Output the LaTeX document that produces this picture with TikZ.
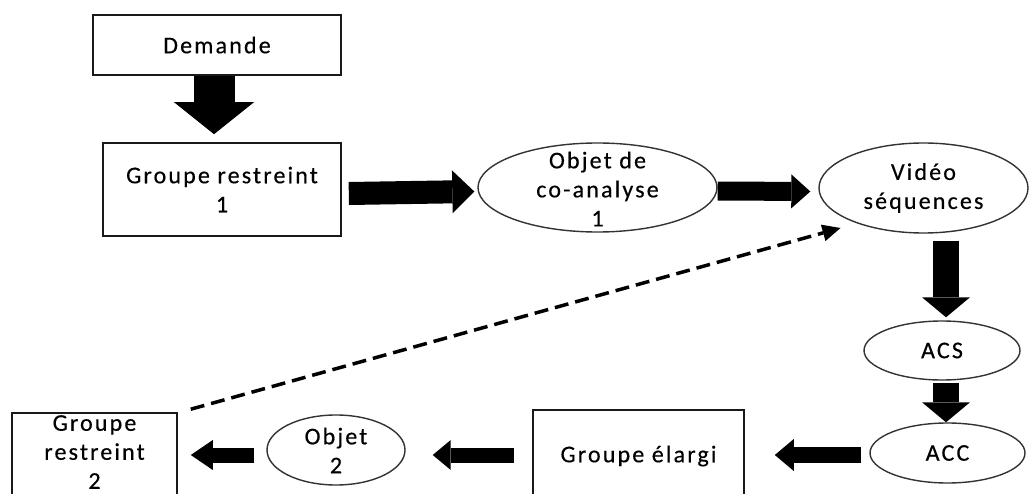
\documentclass[tikz,border=0pt]{standalone}
\usepackage{fontspec}
\setmainfont{Carlito}[LetterSpace=9,FakeBold=0.4]
\usetikzlibrary{shapes.geometric,arrows.meta,calc}
\newcommand\lbfont{\fontsize{24}{29}\selectfont}
\tikzset{
  box/.style={draw=black!90, line width=1.6pt, rectangle, inner sep=0pt, font=\lbfont, align=center},
  ell/.style={draw=black!80, line width=1.4pt, ellipse, inner sep=0pt, font=\lbfont, align=center},
  lbl/.style={font=\lbfont, align=center, inner sep=0pt},
  blk/.style={draw=black, line cap=butt},
  bigtip/.style 2 args={-{Triangle[width=#1,length=#2,line width=0pt]}},
  dashlink/.style={draw=black, line width=3.5pt, dash pattern=on 14pt off 7pt,
    -{Triangle[width=17pt,length=18pt,line width=0pt]}},
}
\begin{document}
\begin{tikzpicture}[x=1pt,y=-1pt]
  \fill[white] (0,0) rectangle (1030,494);
  \useasboundingbox (0,0) rectangle (1030,494);

  % nodes
  \node[box, minimum width=248pt, minimum height=60pt] (dem) at (217,45) {Demande};
  \node[box, minimum width=238pt, minimum height=93pt] (gr1) at (222,189.5) {Groupe restreint\\1};
  \node[ell, minimum width=239pt, minimum height=89pt] (obj1) at (597.5,187.5) {};
  \node[lbl] (obj1t) at (597.5,189) {Objet de\\co-analyse\\1};
  \node[ell, minimum width=209pt, minimum height=90pt] (vid) at (923.5,188) {Vidéo\\séquences};
  \node[ell, minimum width=156pt, minimum height=59pt] (acs) at (942,350.5) {ACS};
  \node[ell, minimum width=155pt, minimum height=60pt] (acc) at (947.5,453) {ACC};
  \node[box, minimum width=211pt, minimum height=92pt] (ela) at (638.5,456) {};
  \node[lbl] (elat) at (638.5,456) {Groupe élargi};
  \node[ell, minimum width=138pt, minimum height=70pt] (obj2) at (336,450) {};
  \node[lbl] (obj2t) at (336,450.5) {Objet\\2};
  \node[box, minimum width=165pt, minimum height=92pt] (gr2) at (94.5,459) {};
  \node[lbl] (gr2t) at (94.5,452) {Groupe\\restreint\\2};

  % block arrows
  \draw[blk, line width=41pt, bigtip={80pt}{32pt}]
    ($(dem.south)+(-3,0)$) -- ($(dem.south |- gr1.north)+(-3,-8)$);
  \draw[blk, line width=23pt, bigtip={43pt}{22pt}]
    ($(gr1.east)+(7,4)$) -- ($(obj1.west)+(-3,4)$);
  \draw[blk, line width=19pt, bigtip={34pt}{19pt}]
    ($(obj1.east)+(0,3.5)$) -- ($(vid.west)+(-8,3.5)$);
  \draw[blk, line width=26pt, bigtip={48pt}{20pt}]
    ($(vid.south -| acs.north)+(4,7)$) -- ($(acs.north)+(4,-3)$);
  \draw[blk, line width=26pt, bigtip={48pt}{20pt}]
    ($(acs.south)+(4,2)$) -- ($(acs.south |- acc.north)+(4,0)$);
  \draw[blk, line width=16pt, bigtip={32pt}{19pt}]
    ($(acc.west)+(-8,2)$) -- ($(ela.east |- acc.west)+(30,2)$);
  \draw[blk, line width=15pt, bigtip={30pt}{18pt}]
    ($(ela.west |- acc.west)+(-18,2)$) -- ($(obj2.east |- acc.west)+(27,2)$);
  \draw[blk, line width=15pt, bigtip={30pt}{22pt}]
    ($(obj2.west |- acc.west)+(-12,2)$) -- ($(gr2.east |- acc.west)+(13,2)$);

  % dashed feedback
  \draw[dashlink] ($(gr2.north east)+(13,-3)$) -- ($(vid.center)+(-83,40)$);
\end{tikzpicture}
\end{document}
